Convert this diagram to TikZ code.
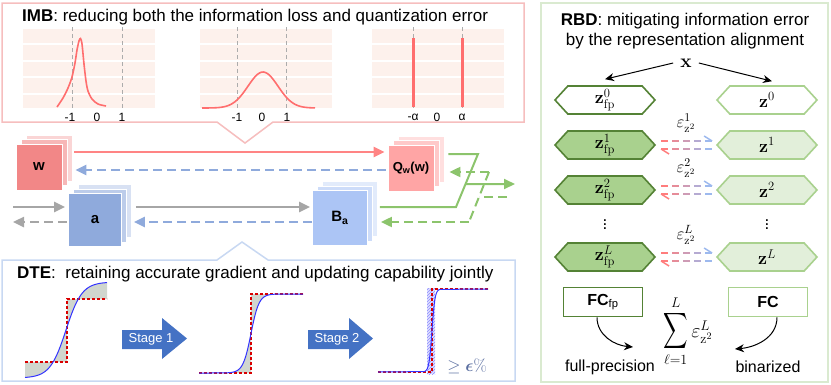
\documentclass[tikz,border=0pt]{standalone}
\usepackage{fix-cm}
\usepackage[no-math]{fontspec}
\setmainfont{Liberation Sans}
\usepackage{amsmath, amssymb, bm}
\usetikzlibrary{arrows.meta, shapes.symbols, calc, patterns}

\definecolor{imbpink}{RGB}{246,190,190}
\definecolor{plotbg}{RGB}{253,241,236}
\definecolor{curvered}{RGB}{255,110,110}
\definecolor{wred}{RGB}{242,135,135}
\definecolor{qpink}{RGB}{255,165,165}
\definecolor{ablue}{RGB}{143,170,220}
\definecolor{bblue}{RGB}{172,197,245}
\definecolor{arrgray}{RGB}{166,166,166}
\definecolor{dashblue}{RGB}{143,170,220}
\definecolor{arrgreen}{RGB}{140,196,108}
\definecolor{dteblue}{RGB}{200,216,242}
\definecolor{dtegray}{RGB}{208,214,206}
\definecolor{stageblue}{RGB}{68,114,196}
\definecolor{rbdgreen}{RGB}{218,234,208}
\definecolor{darkgreen}{RGB}{84,130,53}
\definecolor{midgreen}{RGB}{169,209,142}
\definecolor{palegreen}{RGB}{226,239,218}
\definecolor{errred}{RGB}{255,125,125}
\definecolor{errblue}{RGB}{157,185,238}
\definecolor{epsblue}{RGB}{90,110,160}

% three stacked feature maps: name, x, y, size, colour, label
\newcommand{\layerstack}[6]{%
	\node (#1-back2) at ({#2+10},{#3-9}) [stacksq, fill=#5!35, minimum size=#4pt] {};
	\node (#1-back1) at ({#2+5},{#3-4.5}) [stacksq, fill=#5!60, minimum size=#4pt] {};
	\node (#1) at (#2,#3) [stacksq, fill=#5, minimum size=#4pt] {#6};
}
\newcommand{\tallsum}{\mathop{\scalebox{0.85}[1.25]{$\displaystyle\sum$}}\limits}

\begin{document}
\begin{tikzpicture}[x=1pt, y=-1pt, font=\fontsize{17}{20}\selectfont,
	panel/.style={line width=1.5pt},
	guide/.style={draw=gray!65, dash pattern=on 4pt off 3pt, line width=1pt},
	tick/.style={font=\fontsize{12}{14}\selectfont, inner sep=1pt},
	stacksq/.style={draw=white, line width=0.8pt, inner sep=0pt, font=\fontsize{15}{18}\selectfont\bfseries},
	fwd/.style={line width=2.4pt, -{Triangle[length=11pt,width=10pt]}},
	bwd/.style={fwd, dash pattern=on 9pt off 5pt},
	dtecurve/.style={line width=1pt, draw=blue!80},
	dtestep/.style={line width=1.1pt, draw=red!85!black, dash pattern=on 3pt off 2pt},
	stagetext/.style={text=white, font=\fontsize{13}{15}\selectfont, inner sep=0pt},
	hexfp/.style={signal, signal to=west and east, signal pointer angle=95, draw=darkgreen, line width=1.6pt, minimum width=100pt, minimum height=28pt, inner sep=0pt, font=\fontsize{18}{20}\selectfont},
	hexbn/.style={hexfp, draw=midgreen},
	fcbox/.style={draw, line width=1.6pt, minimum width=79pt, minimum height=29pt, font=\fontsize{16}{18}\selectfont},
	errdash/.style={line width=1.5pt},
	bendarrow/.style={line width=1pt, -{Stealth[length=9pt,width=8pt]}}]
	\useasboundingbox (0,0) rectangle (831,384);

	% IMB panel
	\path[draw=imbpink, panel, fill=white] (2,3) -- (524,3) -- (524,122) -- (273,122) -- (245,143) -- (217,122) -- (2,122) -- cycle;
	\node (imbtitle) at (22,17) [anchor=west, inner sep=0pt] {\textbf{IMB}: reducing both the information loss and quantization error};
	\foreach \xa in {23,200,372} {
		\path[fill=plotbg] (\xa,29) rectangle ++(132,79);
		\foreach \yy in {44,61,77,94}
			\path[draw=white, line width=1.2pt] (\xa,\yy) -- ++(132,0);
	}
	\foreach \gx in {72,122,237,286,413,462}
		\path[guide] (\gx,27) -- (\gx,108);
	\path[draw=curvered, line width=1.6pt] plot[smooth] coordinates {(57,107) (63,98) (68,88) (72,77) (75,63) (77,50) (79,41) (80.5,38.5) (82,44) (84,64) (86,81) (88,91) (92,99) (98,104) (106,106)};
	\path[draw=curvered, line width=1.6pt] plot[domain=202:315, samples=60] (\x, {108-36*exp(-((\x-263)^2)/450)});
	\path[draw=curvered, line width=3pt] (413,38) -- (413,107);
	\path[draw=curvered, line width=3pt] (462,38) -- (462,107);
	\foreach \tx/\tl in {70/-1, 97/0, 122/1, 237/-1, 262/0, 287/1, 413/-α, 437/0, 462/α}
		\node (tick\tx) at (\tx,117) [tick] {\tl};

	% feature maps and the forward / backward flow
	\layerstack{w}{39}{167}{46}{wred}{w}
	\layerstack{qw}{411}{168}{46}{qpink}{\fontsize{13}{15}\selectfont Q\textsubscript{w}(w)}
	\layerstack{a}{95}{220}{53}{ablue}{a}
	\layerstack{ba}{340}{218}{55}{bblue}{B\textsubscript{a}}

	\path[draw=curvered!85, fwd] ([xshift=12pt,yshift=15pt]w.east) -- ([xshift=-3pt,yshift=16pt]qw.west);
	\path[draw=dashblue, bwd] ([xshift=-2pt,yshift=-2pt]qw.west) -- ([xshift=13pt,yshift=-3pt]w.east);
	\coordinate (inL) at (13,207);
	\coordinate (outL) at (13,222);
	\path[draw=arrgray, fwd] (inL) -- ([xshift=-3pt,yshift=13pt]a.west);
	\path[draw=arrgray, bwd] ([xshift=-1pt,yshift=-2pt]a.west) -- (outL);
	\path[draw=arrgray, fwd] ([xshift=14pt,yshift=13pt]a.east) -- ([xshift=-2pt,yshift=11pt]ba.west);
	\path[draw=dashblue, bwd] ([yshift=-4pt]ba.west) -- ([xshift=12pt,yshift=-2pt]a.east);

	\coordinate (gtop) at (478,154);
	\coordinate (gbot) at (456,207);
	\coordinate (outR) at (515,184);
	\coordinate (dtop) at (489,172);
	\coordinate (dbot) at (469,222);
	\coordinate (inR) at (507,197);
	\path[draw=arrgreen, line width=2pt] ([xshift=14pt,yshift=14pt]qw.east) -- (gtop) -- (gbot) -- ([xshift=12pt,yshift=11pt]ba.east);
	\path[draw=arrgreen, fwd, line width=2pt] ($(gtop)!0.566!(gbot)$) -- (outR);
	\path[draw=arrgreen, line width=2pt, dash pattern=on 9pt off 5pt] (inR) -- ($(dtop)!0.5!(dbot)$);
	\path[draw=arrgreen, line width=2pt, dash pattern=on 9pt off 5pt] (dtop) -- (dbot);
	\path[draw=arrgreen, bwd, line width=2pt] (dtop) -- ([xshift=15pt,yshift=-4pt]qw.east);
	\path[draw=arrgreen, bwd, line width=2pt] (dbot) -- ([xshift=13pt,yshift=-4pt]ba.east);

	% DTE panel
	\path[draw=dteblue, panel] (2,260) -- (217,260) -- (242,242) -- (268,260) -- (515,260) -- (515,381) -- (2,381) -- cycle;
	\node (dtetitle) at (17,274) [anchor=west, inner sep=0pt] {\textbf{DTE}:\ \ retaining accurate gradient and updating capability jointly};

	\path[fill=dtegray] plot[domain=25:107, samples=50] (\x, {378-96/(1+exp(-(\x-66)/8))}) -- (107,299) -- (67,299) -- (67,362) -- (25,362) -- cycle;
	\path[dtestep] (25,362) -- (67,362) -- (67,299) -- (107,299);
	\path[dtecurve] plot[domain=25:107, samples=50] (\x, {378-96/(1+exp(-(\x-66)/8))});

	\path[fill=dtegray] (199,373) -- plot[domain=215:287, samples=50] (\x, {373-79/(1+exp(-(\x-251)/4))}) -- (303,294) -- (251,294) -- (251,373) -- cycle;
	\path[dtestep] (199,373) -- (251,373) -- (251,294) -- (303,294);
	\path[dtecurve] (199,373) -- plot[domain=215:287, samples=50] (\x, {373-79/(1+exp(-(\x-251)/4))}) -- (303,294);

	\path[fill=blue!12] (427,288) rectangle (435,374);
	\path[pattern=north east lines, pattern color=blue!45] (427,288) rectangle (435,374);
	\path[dtestep] (378,372) -- (432,372) -- (432,289) -- (488,289);
	\path[dtecurve] (378,372) -- plot[domain=424:440, samples=40] (\x, {372-83/(1+exp(-(\x-432)/1.5))}) -- (488,289);
	\node (eps) at (467,366) [text=epsblue, font=\fontsize{17}{19}\selectfont] {$\geq \boldsymbol{\epsilon}\%$};

	\path[fill=stageblue] (122,330) -- (162,330) -- (162,318) -- (187,338.5) -- (162,359) -- (162,349) -- (122,349) -- cycle;
	\node (stage1) at (151,339) [stagetext] {Stage 1};
	\path[fill=stageblue] (308,330) -- (349,330) -- (349,318) -- (373,338.5) -- (349,359) -- (349,349) -- (308,349) -- cycle;
	\node (stage2) at (337,339) [stagetext] {Stage 2};

	% RBD panel
	\path[draw=rbdgreen, panel] (541,3) rectangle (828,382);
	\node (rbdtitle) at (685,31) [align=center, inner sep=0pt] {\textbf{RBD}: mitigating information error\\by the representation alignment};
	\node (x) at (686,63) [inner sep=1pt, font=\fontsize{19}{21}\selectfont] {$\mathbf{x}$};

	\node (fp0) at (605,100) [hexfp, fill=white] {$\mathbf{z}^{0}_{\mathrm{fp}}$};
	\node (bn0) at (767,100) [hexbn, fill=white] {$\mathbf{z}^{0}$};
	\foreach \lay/\ry in {1/145, 2/190, L/257} {
		\node (fp\lay) at (605,\ry) [hexfp, fill=midgreen] {$\mathbf{z}^{\lay}_{\mathrm{fp}}$};
		\node (bn\lay) at (767,\ry) [hexbn, fill=palegreen] {$\mathbf{z}^{\lay}$};
		\node (eps\lay) at ($(fp\lay.east)!0.5!(bn\lay.west)+(0,-22)$) [inner sep=0pt, font=\fontsize{17}{19}\selectfont] {$\varepsilon^{\lay}_{\mathrm{z}^2}$};
		\foreach \seg in {0,...,4} {
			\pgfmathsetmacro{\pc}{100-25*\seg}
			\path[draw=errred!\pc!errblue, errdash] ($(fp\lay.east)+(5+11*\seg,-4)$) -- ++(7,0);
			\path[draw=errred!\pc!errblue, errdash] ($(fp\lay.east)+(5+11*\seg,4)$) -- ++(7,0);
		}
		\path[draw=errblue, errdash] ($(fp\lay.east)+(56,-4)$) -- ++(-8,-5);
		\path[draw=errred, errdash] ($(fp\lay.east)+(5,4)$) -- ++(8,5);
	}
	\node (vdotsfp) at (605,222) [inner sep=0pt] {$\vdots$};
	\node (vdotsbn) at (767,222) [inner sep=0pt] {$\vdots$};

	\path[draw, line width=1pt, -{Stealth[length=9pt,width=8pt]}] ([xshift=-6pt]x.west) -- ([yshift=6pt]fp0.north);
	\path[draw, line width=1pt, -{Stealth[length=9pt,width=8pt]}] ([xshift=6pt]x.east) -- ([xshift=5pt,yshift=4pt]bn0.north);

	\node (fcfp) at (603,302) [fcbox, draw=darkgreen] {\textbf{FC}\textsubscript{fp}};
	\node (fcbn) at (768,302) [fcbox, draw=midgreen] {\textbf{FC}};
	\node (sumerr) at (688,331) [inner sep=0pt, font=\fontsize{20}{24}\selectfont] {$\tallsum_{\ell=1}^{L}\varepsilon^{L}_{\mathrm{z}^2}$};
	\node (fptext) at (610,367) [font=\fontsize{16}{18}\selectfont] {full-precision};
	\node (bntext) at (768,367) [font=\fontsize{16}{18}\selectfont] {binarized};
	\coordinate (fpend) at (633,347);
	\coordinate (bnend) at (735,349);
	\path[draw, bendarrow] ([xshift=-6pt]fcfp.south) to[out=-90, in=175] (fpend);
	\path[draw, bendarrow] ([xshift=9pt]fcbn.south) to[out=-90, in=5] (bnend);
\end{tikzpicture}
\end{document}
